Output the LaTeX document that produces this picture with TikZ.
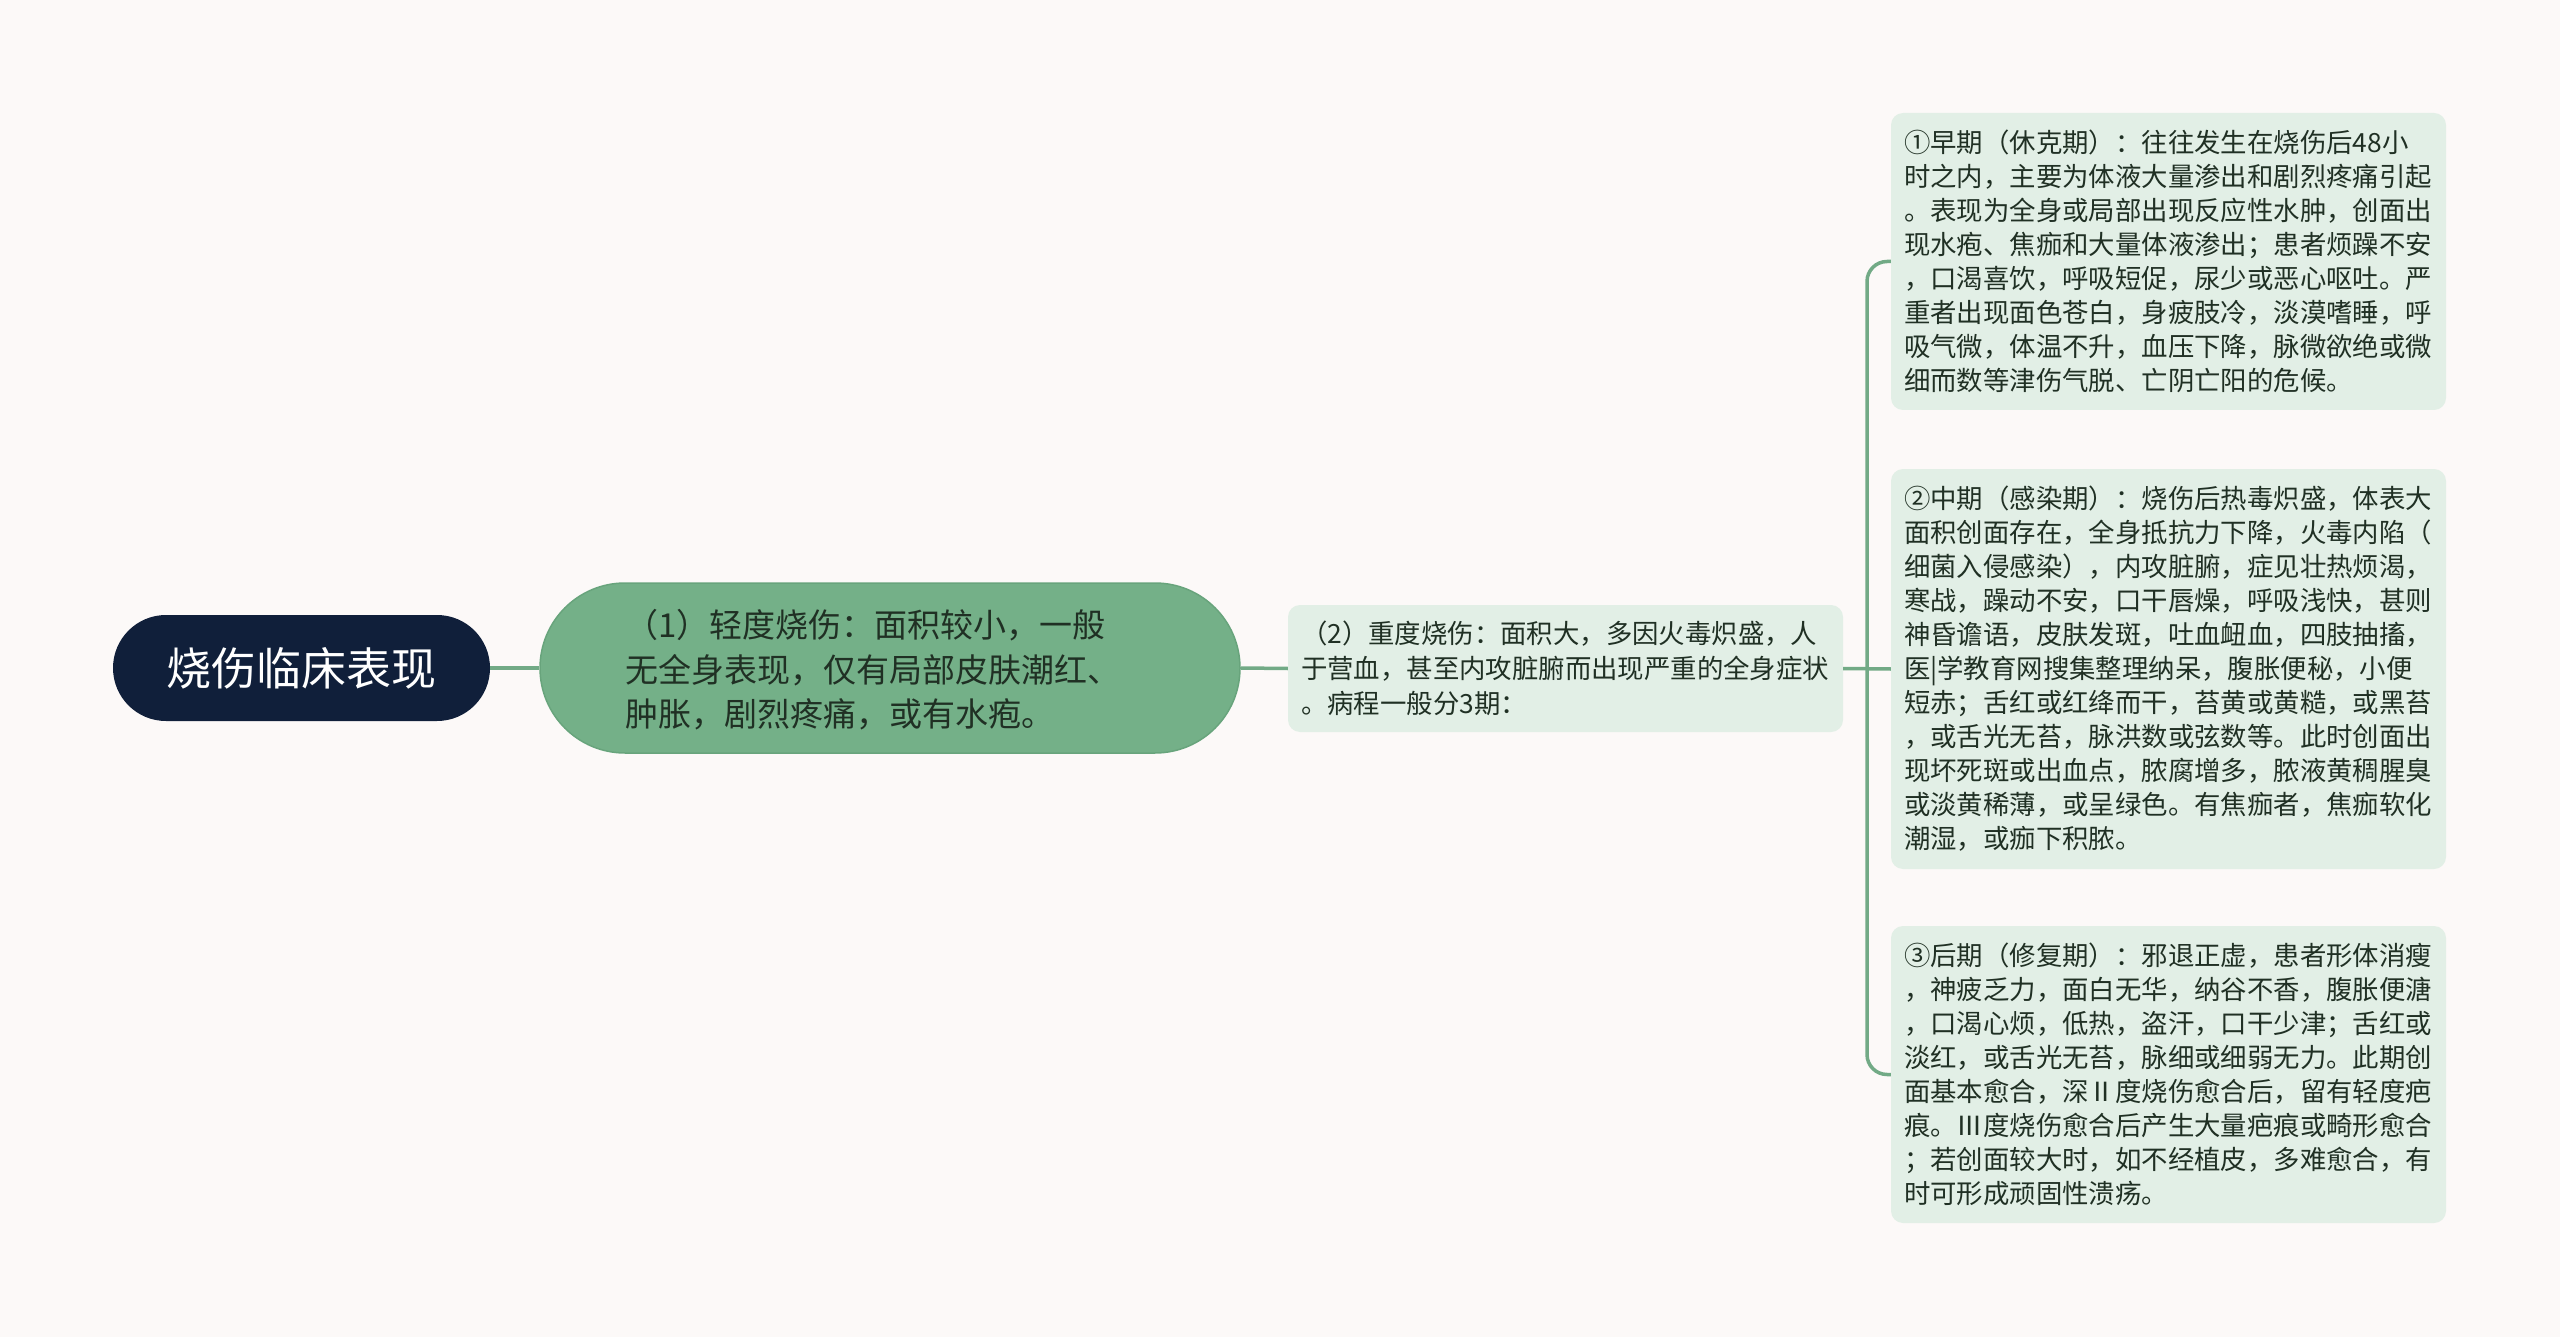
\documentclass[tikz,border=0pt]{standalone}
\usepackage{fontspec}
\setmainfont{Noto Sans CJK SC}
\definecolor{bgc}{RGB}{252,249,248}
\definecolor{navy}{RGB}{16,31,58}
\definecolor{pillg}{RGB}{116,176,136}
\definecolor{pilledge}{RGB}{104,164,124}
\definecolor{leafg}{RGB}{226,239,230}
\definecolor{conn}{RGB}{114,170,134}
\definecolor{txt}{RGB}{32,48,36}
\begin{document}
\begin{tikzpicture}[x=1pt,y=-1pt,
  rootbox/.style={rectangle, rounded corners=53pt, fill=navy, minimum width=377pt, minimum height=106pt, text=white, font=\fontsize{45pt}{54pt}\selectfont, inner sep=0pt},
  pillbox/.style={rectangle, rounded corners=85pt, fill=pillg, draw=pilledge, line width=1.5pt, minimum width=700pt, minimum height=170pt},
  pilltext/.style={align=left, text=txt, font=\fontsize{33pt}{44.5pt}\selectfont, inner sep=0pt},
  leafbox/.style={rectangle, rounded corners=12pt, fill=leafg, text=txt, text width=529pt, align=left, inner xsep=13pt, inner ysep=0pt, font=\fontsize{26.4pt}{34pt}\selectfont, minimum width=555pt},
  conline/.style={draw=conn, line width=3.5pt}
]
\fill[bgc] (0,0) rectangle (2560,1337);
\useasboundingbox (0,0) rectangle (2560,1337);

\node[rootbox] (root) at (301.5,668) {烧伤临床表现};
\node[pillbox] (pill) at (890,668) {};
\node[pilltext] (pillt) at (873,670) {（1）轻度烧伤：面积较小，一般\\无全身表现，仅有局部皮肤潮红、\\肿胀，剧烈疼痛，或有水疱。};
\node[leafbox, minimum height=127pt, font=\fontsize{26.4pt}{35pt}\selectfont] (n2) at (1565.5,668.5) {（2）重度烧伤：面积大，多因火毒炽盛，人\\于营血，甚至内攻脏腑而出现严重的全身症状\\。病程一般分3期：};

\node[leafbox, minimum height=297pt] (l1) at (2168.5,261.5) {①早期（休克期）：往往发生在烧伤后48小\\时之内，主要为体液大量渗出和剧烈疼痛引起\\。表现为全身或局部出现反应性水肿，创面出\\现水疱、焦痂和大量体液渗出；患者烦躁不安\\，口渴喜饮，呼吸短促，尿少或恶心呕吐。严\\重者出现面色苍白，身疲肢冷，淡漠嗜睡，呼\\吸气微，体温不升，血压下降，脉微欲绝或微\\细而数等津伤气脱、亡阴亡阳的危候。};

\node[leafbox, minimum height=400pt] (l2) at (2168.5,669) {②中期（感染期）：烧伤后热毒炽盛，体表大\\面积创面存在，全身抵抗力下降，火毒内陷（\\细菌入侵感染），内攻脏腑，症见壮热烦渴，\\寒战，躁动不安，口干唇燥，呼吸浅快，甚则\\神昏谵语，皮肤发斑，吐血衄血，四肢抽搐，\\医|学教育网搜集整理纳呆，腹胀便秘，小便\\短赤；舌红或红绛而干，苔黄或黄糙，或黑苔\\，或舌光无苔，脉洪数或弦数等。此时创面出\\现坏死斑或出血点，脓腐增多，脓液黄稠腥臭\\或淡黄稀薄，或呈绿色。有焦痂者，焦痂软化\\潮湿，或痂下积脓。};

\node[leafbox, minimum height=297pt] (l3) at (2168.5,1074.5) {③后期（修复期）：邪退正虚，患者形体消瘦\\，神疲乏力，面白无华，纳谷不香，腹胀便溏\\，口渴心烦，低热，盗汗，口干少津；舌红或\\淡红，或舌光无苔，脉细或细弱无力。此期创\\面基本愈合，深Ⅱ度烧伤愈合后，留有轻度疤\\痕。Ⅲ度烧伤愈合后产生大量疤痕或畸形愈合\\；若创面较大时，如不经植皮，多难愈合，有\\时可形成顽固性溃疡。};

\coordinate (bx) at (1867,668);
\draw[conline] (root.east) -- (pill.west);
\draw[conline] (pill.east) -- (n2.west);
\draw[conline] (n2.east) -- (l2.west);
\draw[conline, rounded corners=20pt] (l1.west) -- (l1.west -| bx) -- (l3.west -| bx) -- (l3.west);
\end{tikzpicture}
\end{document}
